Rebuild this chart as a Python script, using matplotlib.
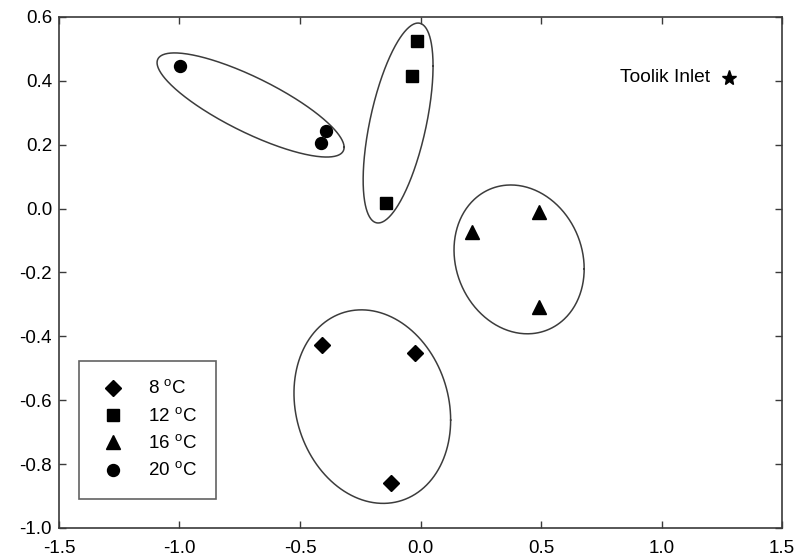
import numpy as np
import matplotlib
matplotlib.use("Agg")
import matplotlib.pyplot as plt
from matplotlib.lines import Line2D

plt.rcParams['font.family'] = ['Liberation Sans', 'DejaVu Sans']
plt.rcParams['mathtext.fontset'] = 'custom'
plt.rcParams['mathtext.rm'] = 'Liberation Sans'

# ---- data ----
x_8 = [-0.407, -0.024, -0.122]
y_8 = [-0.427, -0.451, -0.860]
x_12 = [-0.016, -0.035, -0.143]
y_12 = [0.526, 0.415, 0.017]
x_16 = [0.492, 0.212, 0.492]
y_16 = [-0.011, -0.072, -0.309]
x_20 = [-0.998, -0.392, -0.413]
y_20 = [0.447, 0.243, 0.205]
ref_x = [1.28]
ref_y = [0.41]
ref_label = "Toolik Inlet"
legend_labels = [r"8 $^{\rm o}$C", r"12 $^{\rm o}$C", r"16 $^{\rm o}$C", r"20 $^{\rm o}$C"]

# ellipses: centre x, centre y, half-width x, half-height y, correlation
ell_cx = [-0.705, -0.093, 0.409, -0.200]
ell_cy = [0.3245, 0.268, -0.159, -0.620]
ell_hx = [0.388, 0.145, 0.270, 0.325]
ell_hy = [0.163, 0.313, 0.233, 0.303]
ell_rho = [-0.813, 0.57, -0.127, -0.139]

xticks = [-1.5, -1.0, -0.5, 0.0, 0.5, 1.0, 1.5]
yticks = [-1.0, -0.8, -0.6, -0.4, -0.2, 0.0, 0.2, 0.4, 0.6]

FS = 13.5

fig = plt.figure(figsize=(7.99, 5.59), dpi=100)
ax = fig.add_axes([0.0738, 0.0555, 0.9050, 0.9141])

spine_col = '#3a3a3a'
t = np.linspace(0, 2 * np.pi, 400)
for cx, cy, hx, hy, r in zip(ell_cx, ell_cy, ell_hx, ell_hy, ell_rho):
    ex = cx + hx * np.cos(t)
    ey = cy + hy * (r * np.cos(t) + np.sqrt(1 - r * r) * np.sin(t))
    ax.plot(ex, ey, color='#3c3c3c', lw=1.1, zorder=2)

ax.plot(x_8, y_8, 'D', color='black', ms=8.0, ls='none', zorder=3)
ax.plot(x_12, y_12, 's', color='black', ms=8.6, ls='none', zorder=3)
ax.plot(x_16, y_16, '^', color='black', ms=9.5, ls='none', zorder=3)
ax.plot(x_20, y_20, 'o', color='black', ms=8.6, ls='none', zorder=3)
ax.plot(ref_x, ref_y, '*', color='black', ms=11, ls='none', zorder=3)
ax.annotate(ref_label, (ref_x[0], ref_y[0]), xytext=(-14, 0),
            textcoords='offset points', ha='right', va='center', fontsize=13.8)

ax.set_xlim(-1.5, 1.5)
ax.set_ylim(-1.0, 0.6)
ax.set_xticks(xticks)
ax.set_yticks(yticks)
ax.set_xticklabels([f"{v:.1f}" for v in xticks])
ax.set_yticklabels([f"{v:.1f}" for v in yticks])
ax.tick_params(direction='in', length=5, width=1, colors=spine_col,
               labelcolor='black', labelsize=FS, top=True, right=True,
               labeltop=False, labelright=False)
ax.tick_params(axis='x', pad=8.5)
ax.tick_params(axis='y', pad=5)
for s in ax.spines.values():
    s.set_color(spine_col)
    s.set_linewidth(1.2)

handles = [Line2D([], [], marker='D', color='black', ls='none', ms=8.0),
           Line2D([], [], marker='s', color='black', ls='none', ms=8.6),
           Line2D([], [], marker='^', color='black', ls='none', ms=9.5),
           Line2D([], [], marker='o', color='black', ls='none', ms=8.6)]
leg = ax.legend(handles, legend_labels, loc='lower left',
                bbox_to_anchor=(0.0277, 0.0568), fontsize=FS,
                frameon=True, fancybox=False, edgecolor=spine_col,
                labelspacing=0.46, handletextpad=1.1, borderpad=1.0,
                handlelength=1.6, borderaxespad=0)
leg.get_frame().set_linewidth(1.2)

fig.savefig('out.png', dpi=100)
